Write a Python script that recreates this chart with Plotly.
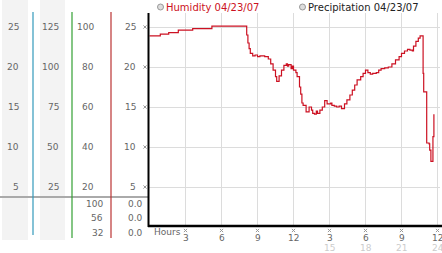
import plotly.graph_objects as go

# ---------------- data ----------------
hours = [0.0, 0.8, 0.9, 1.5, 1.6, 2.3, 2.4, 3.5, 3.6, 5.1, 5.2, 8.0, 8.1, 8.2, 8.3, 8.4, 8.6, 8.8,
         9.0, 9.2, 9.6, 9.9, 10.1, 10.3, 10.5, 10.6, 10.8, 11.0, 11.2, 11.4, 11.5, 11.6, 11.8, 11.9,
         12.0, 12.2, 12.3, 12.5, 12.6, 12.7, 12.8, 13.05, 13.3, 13.5, 13.6, 13.75, 13.9, 14.0, 14.2,
         14.4, 14.6, 14.8, 15.1, 15.2, 15.4, 15.6, 15.8, 16.0, 16.25, 16.45, 16.7, 16.9, 17.1, 17.3,
         17.6, 17.8, 18.0, 18.2, 18.4, 18.6, 18.9, 19.1, 19.3, 19.6, 19.9, 20.2, 20.5, 20.8, 21.0,
         21.25, 21.5, 21.7, 21.9, 22.0, 22.2, 22.4, 22.55, 22.7, 22.8, 22.85, 23.05, 23.1, 23.3,
         23.35, 23.45, 23.6, 23.62, 23.7]
humidity = [23.9, 23.9, 24.1, 24.1, 24.3, 24.3, 24.6, 24.6, 24.8, 24.8, 25.1, 25.1, 24.0, 23.0, 22.3,
            21.7, 21.4, 21.5, 21.3, 21.4, 21.3, 21.0, 20.4, 19.6, 18.8, 18.2, 18.9, 19.6, 20.2, 20.4,
            20.1, 20.3, 19.8, 20.1, 19.6, 19.3, 18.8, 17.5, 16.6, 15.5, 15.2, 14.4, 15.0, 14.6, 14.2,
            14.1, 14.5, 14.2, 14.6, 15.0, 15.8, 15.4, 15.5, 15.2, 15.1, 15.0, 15.1, 14.8, 15.4, 15.9,
            16.5, 17.1, 17.75, 18.4, 18.8, 19.2, 19.6, 19.3, 19.1, 19.2, 19.3, 19.6, 19.8, 19.9, 20.0,
            20.4, 20.9, 21.3, 21.7, 22.0, 22.2, 22.1, 22.0, 22.6, 23.2, 23.6, 23.9, 23.9, 19.2, 16.9,
            16.9, 10.5, 10.4, 9.6, 8.2, 8.2, 11.3, 14.1]

y_ticks = [25, 20, 15, 10, 5]
col1_labels = ["25", "20", "15", "10", "5"]
col2_labels = ["125", "100", "75", "50", "25"]
col3_labels = ["100", "80", "60", "40", "20"]
col4_labels = ["25", "20", "15", "10", "5"]
col3_bottom = ["100", "56", "32"]
col4_bottom = ["0.0", "0.0", "0.0"]
x_ticks = [3, 6, 9, 12, 15, 18, 21, 24]
x_labels = ["3", "6", "9", "12", "3", "6", "9", "12"]
x_ticks2 = [15, 18, 21, 24]
x_labels2 = ["15", "18", "21", "24"]
legend_names = ["Humidity 04/23/07", "Precipitation 04/23/07"]

# ---------------- geometry helpers ----------------
W, H = 442, 253
PL, PR, PT, PB = 149, 440, 13, 227
X0PX = 149.5   # pixel of hour 0
PXH = 12.0     # pixels per hour
PXU = 8.0      # pixels per humidity unit


def xp(px):
    return (px - PL) / (PR - PL)


def yp(py):
    return (PB - py) / (PB - PT)


FONT = "DejaVu Sans"
GRAY = "#666666"

fig = go.Figure()
fig.add_trace(go.Scatter(x=hours, y=humidity, mode="lines",
                         line=dict(color="#cc1122", width=1.2, shape="hv"),
                         hoverinfo="skip", showlegend=False))

shapes = []
# left gray panels
for x0, x1 in [(2, 28), (40, 65)]:
    shapes.append(dict(type="rect", xref="paper", yref="paper", x0=xp(x0), x1=xp(x1),
                       y0=yp(240), y1=yp(0), fillcolor="#f3f3f3", line=dict(width=0), layer="below"))
# horizontal separator
shapes.append(dict(type="line", xref="paper", yref="paper", x0=xp(0), x1=xp(149),
                   y0=yp(197), y1=yp(197), line=dict(color="#aaaaaa", width=2)))
# colored axis lines
for xx, col, yb in [(33, "#3399bb", 235), (72, "#33a033", 238), (111, "#bb3333", 238)]:
    shapes.append(dict(type="line", xref="paper", yref="paper", x0=xp(xx), x1=xp(xx),
                       y0=yp(12), y1=yp(yb), line=dict(color=col, width=1.2)))
# black axes
shapes.append(dict(type="line", xref="paper", yref="paper", x0=xp(148.5), x1=xp(148.5),
                   y0=yp(13), y1=yp(227), line=dict(color="black", width=2)))
shapes.append(dict(type="line", xref="paper", yref="paper", x0=xp(148), x1=xp(442),
                   y0=yp(226), y1=yp(226), line=dict(color="black", width=2.5)))
# legend circles
for cx in [160.5, 302.5]:
    shapes.append(dict(type="circle", xref="paper", yref="paper", x0=xp(cx - 3), x1=xp(cx + 3),
                       y0=yp(10), y1=yp(4), fillcolor="#dddddd", line=dict(color="#999999", width=1)))

# tiny tick glyphs (small crosses)
G = 1.6
for v in x_ticks:
    for s in (1, -1):
        shapes.append(dict(type="line", xref="x", yref="paper",
                           x0=v - G / PXH, x1=v + G / PXH,
                           y0=yp(230.5 - s * G), y1=yp(230.5 + s * G),
                           line=dict(color="#999999", width=1)))
for v in y_ticks:
    for s in (1, -1):
        shapes.append(dict(type="line", xref="paper", yref="y",
                           x0=xp(145 - G), x1=xp(145 + G),
                           y0=v - s * G / PXU, y1=v + s * G / PXU,
                           line=dict(color="#999999", width=1)))

ann = []


def txt(text, x, y, xref="paper", yref="paper", size=9, color=GRAY, xanchor="right", yanchor="middle"):
    ann.append(dict(text=text, x=x, y=y, xref=xref, yref=yref, showarrow=False,
                    font=dict(family=FONT, size=size, color=color), xanchor=xanchor,
                    yanchor=yanchor))


for v, a, b, c, d in zip(y_ticks, col1_labels, col2_labels, col3_labels, col4_labels):
    txt(a, xp(21), v, yref="y")
    txt(b, xp(61), v, yref="y")
    txt(c, xp(96), v, yref="y")
    txt(d, xp(138), v, yref="y")

for i, (a, b) in enumerate(zip(col3_bottom, col4_bottom)):
    yy = 204 + i * 14.3
    txt(a, xp(105), yp(yy))
    txt(b, xp(145), yp(yy))

txt("Hours", xp(152), yp(232), xanchor="left")
for v, lab in zip(x_ticks, x_labels):
    txt(lab, v, yp(237.5), xref="x", xanchor="center", size=9)
for v, lab in zip(x_ticks2, x_labels2):
    txt(lab, v, yp(248), xref="x", xanchor="center", color="#cccccc", size=9)

txt(legend_names[0], xp(164), yp(7.5), size=10, color="#cc1122", xanchor="left")
txt(legend_names[1], xp(306), yp(7.5), size=10, color="#222222", xanchor="left")

fig.update_layout(
    width=W, height=H, autosize=False,
    margin=dict(l=PL, r=W - PR, t=PT, b=H - PB, pad=0),
    paper_bgcolor="white", plot_bgcolor="white",
    xaxis=dict(range=[(PL - X0PX) / PXH, (PR - X0PX) / PXH], tickvals=x_ticks, showticklabels=False,
               showgrid=True, gridcolor="#dcdcdc", gridwidth=1, zeroline=False, showline=False,
               fixedrange=True),
    yaxis=dict(range=[0, (PB - PT) / PXU], tickvals=y_ticks, showticklabels=False,
               showgrid=True, gridcolor="#dcdcdc", gridwidth=1, zeroline=False, showline=False,
               fixedrange=True),
    shapes=shapes, annotations=ann, showlegend=False,
)

fig.write_html("out.html", config={"displayModeBar": False})
